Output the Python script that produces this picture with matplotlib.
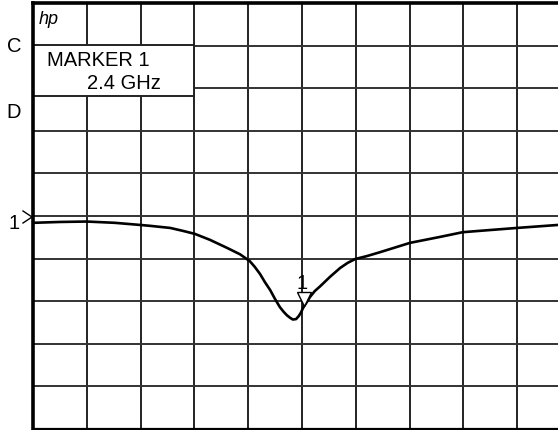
import matplotlib
matplotlib.use("Agg")
import matplotlib.pyplot as plt
from matplotlib.patches import Rectangle

plt.rcParams['font.family'] = ['Liberation Sans', 'DejaVu Sans']

# Trace readings (x in horizontal divisions, y in vertical divisions relative to reference line)
trace_x = [0.0, 0.50, 1.0, 1.52, 1.99, 2.17, 2.55, 2.79, 3.01, 3.29, 3.61, 3.85,
           4.03, 4.12, 4.22, 4.31, 4.41, 4.50, 4.59, 4.66, 4.72, 4.78, 4.83, 4.89,
           4.94, 4.98, 5.02, 5.09, 5.15, 5.24, 5.33, 5.52, 5.71, 5.85, 5.99, 6.21,
           6.45, 7.01, 7.57, 7.99, 8.49, 9.0, 9.76]
trace_y = [-0.16, -0.14, -0.13, -0.16, -0.21, -0.23, -0.28, -0.35, -0.42, -0.56,
           -0.75, -0.90, -1.06, -1.19, -1.36, -1.55, -1.74, -1.95, -2.14, -2.25,
           -2.33, -2.39, -2.43, -2.42, -2.35, -2.27, -2.16, -2.02, -1.90, -1.76,
           -1.66, -1.43, -1.22, -1.10, -1.01, -0.94, -0.85, -0.63, -0.49, -0.38,
           -0.33, -0.28, -0.21]

marker_x = [5.03]
marker_y = [-1.95]
marker_label = "1"
marker_title = "MARKER 1"
marker_freq = "2.4 GHz"
left_labels = ["C", "D"]

fig = plt.figure(figsize=(5.58, 4.30), dpi=100)
ax = fig.add_axes([33/558, 1 - 429/430, (558 - 33)/558, (429 - 3)/430])
ax.set_xlim(0, 9.76)
ax.set_ylim(-5, 5)
ax.set_xticks([])
ax.set_yticks([])

for xv in range(1, 10):
    ax.axvline(xv, color='#222222', lw=1.4, zorder=1)
for yv in range(-4, 5):
    ax.axhline(yv, color='#333333', lw=1.4, zorder=1)

ax.spines['right'].set_visible(False)
ax.spines['left'].set_linewidth(2.6)
ax.spines['top'].set_linewidth(2.6)
ax.spines['bottom'].set_linewidth(1.6)

# Marker annotation box
ax.add_patch(Rectangle((0, 2.82), 3, 1.2, facecolor='white', edgecolor='#222222',
                       lw=1.4, zorder=2))
ax.text(0.26, 3.66, marker_title, fontsize=14.5, va='center', ha='left', zorder=3)
ax.text(1.0, 3.1, marker_freq, fontsize=14.5, va='center', ha='left', zorder=3)
ax.text(0.1, 4.62, "hp", fontsize=13, style='italic', va='center', ha='left', zorder=3)

# Trace
ax.plot(trace_x, trace_y, color='black', lw=1.9, zorder=4, solid_joinstyle='round')

# Marker
ax.plot(marker_x, marker_y, marker='v', markersize=9.5, markerfacecolor='white',
        markeredgecolor='black', markeredgewidth=1.0, zorder=5, clip_on=False)
ax.text(marker_x[0] - 0.02, marker_y[0] + 0.37, marker_label, fontsize=14.5,
        ha='center', va='center', zorder=6)

# Left labels
fig.text(14/558, 1 - 47/430, left_labels[0], fontsize=14.5, ha='center', va='center')
fig.text(14/558, 1 - 113/430, left_labels[1], fontsize=14.5, ha='center', va='center')
fig.text(14/558, 1 - 223/430, "1", fontsize=14.5, ha='center', va='center')
# reference chevron
fig.add_artist(plt.Line2D([23/558, 32/558, 23/558],
                          [1 - 211/430, 1 - 217/430, 1 - 223/430],
                          color='black', lw=1.0))

fig.savefig("out.png", dpi=100)
